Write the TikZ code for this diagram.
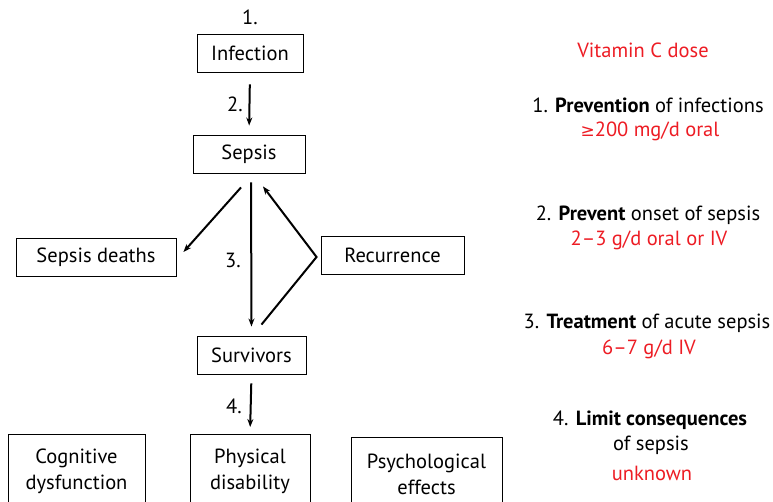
\documentclass[tikz,border=0pt]{standalone}
\usepackage{fontspec}
\setmainfont{PT Sans}
\newfontfamily\symfont{DejaVu Sans}
\usetikzlibrary{arrows.meta}
\definecolor{dosered}{RGB}{237,28,36}
\begin{document}
\begin{tikzpicture}[x=1pt, y=-1pt,
    font=\fontsize{20.5}{26}\selectfont,
    box/.style={draw, line width=0.9pt, minimum height=38pt, inner sep=2pt, align=center},
    lowbox/.style={box, anchor=north, minimum height=74pt},
    arr/.style={line width=2pt, -{Stealth[length=8pt,width=6pt]}},
    dbl/.style={line width=2pt, {Stealth[length=7pt,width=6pt]}-{Stealth[length=7pt,width=6pt]}},
    dose/.style={text=dosered}]
        % Frame
        \useasboundingbox (0,0) rectangle (773,502);

        % Boxes
        \node[box, minimum width=106pt] (inf) at (250,53) {Infection};
        \node[box, minimum width=112pt] (sep) at (249,154) {Sepsis};
        \node[box, minimum width=160pt] (dth) at (96,257) {Sepsis deaths};
        \node[box, minimum width=143pt] (rec) at (392.5,255) {Recurrence};
        \node[box, minimum width=109pt] (surv) at (251.5,355) {Survivors};
        \node[lowbox, minimum width=137pt] (cog) at (76.5,434) {Cognitive\\dysfunction};
        \node[lowbox, minimum width=120pt] (phy) at (250,434) {Physical\\disability};
        \node[lowbox, minimum width=151pt] (psy) at (426.5,437) {Psychological\\effects};

        % Step numbers
        \node (n1) at (250,17) {1.};
        \node (n2) at (235,104) {2.};
        \node (n3) at (233,260) {3.};
        \node (n4) at (234,406) {4.};

        % Arrows
        \draw[arr, shorten <=12pt, shorten >=9pt] (inf.south) -- (sep.north);
        \draw[arr, shorten <=9pt, shorten >=9pt] ([xshift=2pt]sep.south) -- (surv.north);
        \draw[arr] ([xshift=-8pt,yshift=-14pt]sep.south) -- ([xshift=7pt,yshift=5pt]dth.east);
        \coordinate (kink) at ([xshift=-4pt,yshift=-2pt]rec.west);
        \draw[arr] ([xshift=10pt,yshift=11pt]surv.north) -- (kink) -- ([xshift=14pt,yshift=-13pt]sep.south);
        \draw[arr, shorten <=9pt, shorten >=7pt] (surv.south) -- (phy.north);
        \draw[dbl, shorten <=6pt, shorten >=6pt] ([yshift=-34pt]cog.east) -- ([yshift=-34pt]phy.west);
        \draw[dbl, shorten <=3pt, shorten >=4pt] ([yshift=-36pt]phy.east) -- ([yshift=-33pt]psy.west);

        % Vitamin C doses
        \node[dose] (title) at (643,50) {Vitamin C dose};
        \node (d1) at (648,105) {1. \textbf{Prevention} of infections};
        \node[dose] (v1) at (650,131) {{\symfont\fontsize{17}{20}\selectfont ≥}200 mg/d oral};
        \node (d2) at (648,215) {2. \textbf{Prevent} onset of sepsis};
        \node[dose] (v2) at (649,240) {2–3 g/d oral or IV};
        \node (d3) at (647,323) {3. \textbf{Treatment} of acute sepsis};
        \node[dose] (v3) at (649,349) {6–7 g/d IV};
        \node (d4) at (650,420) {4. \textbf{Limit consequences}};
        \node (d4b) at (651,445) {of sepsis};
        \node[dose] (v4) at (652,473) {unknown};
      \end{tikzpicture}
\end{document}
